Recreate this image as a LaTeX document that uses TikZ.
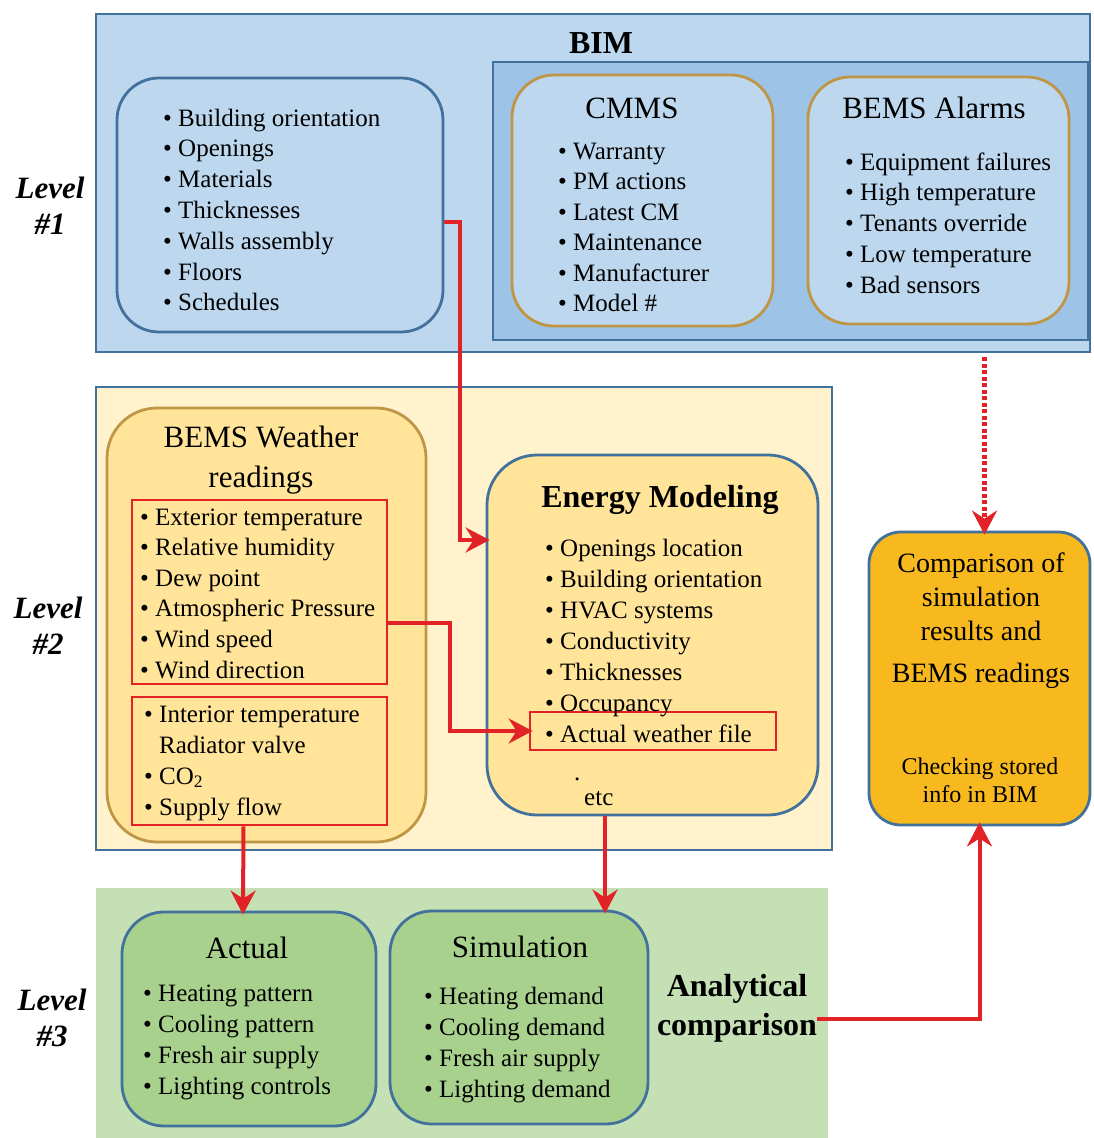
\documentclass[tikz,border=0pt]{standalone}
\usepackage{fontspec}
\setmainfont{Liberation Serif}
\usetikzlibrary{arrows.meta}
\definecolor{bimfill}{RGB}{189,215,238}
\definecolor{bimin}{RGB}{157,195,230}
\definecolor{blueline}{RGB}{65,113,156}
\definecolor{goldline}{RGB}{191,150,70}
\definecolor{creamfill}{RGB}{255,242,204}
\definecolor{yellowfill}{RGB}{255,228,153}
\definecolor{cmpfill}{RGB}{247,185,30}
\definecolor{greenfill}{RGB}{197,224,180}
\definecolor{greenbox}{RGB}{169,209,142}
\definecolor{redline}{RGB}{225,35,40}
\begin{document}
\begin{tikzpicture}[x=1pt,y=-1pt,
    panel/.style={draw=blueline,line width=2.8pt,inner sep=0pt},
    rbox/.style={line width=2.8pt,rounded corners=42pt,inner sep=0pt},
    redbox/.style={draw=redline,line width=2.8pt,inner sep=0pt},
    item/.style={anchor=base west,inner sep=0pt,font=\fontsize{25}{30}\selectfont},
    ttl/.style={inner sep=0pt,font=\fontsize{31}{36}\selectfont},
    lvl/.style={inner sep=0pt,align=center,font=\fontsize{31}{36}\selectfont\bfseries\itshape},
    link/.style={draw=redline,line width=4pt,shorten >=-4pt,-{Stealth[length=24pt,width=25pt,inset=8pt]}}]
  \useasboundingbox (0,0) rectangle (1093,1138);
  \node[panel,fill=bimfill,minimum width=994pt,minimum height=338pt] (bim) at (593,183) {};
  \node[panel,fill=bimin,minimum width=595pt,minimum height=278pt] (bimin) at (790.5,201) {};
  \node[rbox,draw=blueline,fill=bimfill,minimum width=326pt,minimum height=254pt] (geo) at (280,205) {};
  \node[rbox,draw=goldline,fill=bimfill,minimum width=261pt,minimum height=251pt] (cmms) at (642.5,200.5) {};
  \node[rbox,draw=goldline,fill=bimfill,minimum width=261pt,minimum height=247pt] (alarms) at (938.5,200.5) {};
  \node[panel,fill=creamfill,minimum width=736pt,minimum height=463pt] (lvtwo) at (464,618.5) {};
  \node[rbox,draw=goldline,fill=yellowfill,minimum width=319pt,minimum height=434pt,rounded corners=50pt] (weather) at (266.5,625) {};
  \node[redbox,minimum width=255pt,minimum height=184pt] (wx) at (259.5,592) {};
  \node[redbox,minimum width=255pt,minimum height=128pt] (wi) at (259.5,761) {};
  \node[rbox,draw=blueline,fill=yellowfill,minimum width=331pt,minimum height=360pt,rounded corners=50pt] (energy) at (652.5,635) {};
  \node[redbox,minimum width=246pt,minimum height=38pt] (awf) at (653,731) {};
  \node[rbox,draw=blueline,fill=cmpfill,minimum width=221pt,minimum height=293pt,rounded corners=32pt] (cmp) at (979.5,678.5) {};
  \node[fill=greenfill,inner sep=0pt,minimum width=732pt,minimum height=250pt] (lvthree) at (462,1013) {};
  \node[rbox,draw=blueline,fill=greenbox,minimum width=254pt,minimum height=214pt] (actual) at (249,1019) {};
  \node[rbox,draw=blueline,fill=greenbox,minimum width=258pt,minimum height=213pt] (sim) at (519,1017.5) {};

  \node[ttl,font=\fontsize{32}{36}\selectfont\bfseries] (bimt) at (601,43) {BIM};
  \node[ttl] (cmmst) at (632,108) {CMMS};
  \node[ttl] (alarmst) at (934,108) {BEMS Alarms};
  \node[ttl,align=center,font=\fontsize{31}{40}\selectfont] (weathert) at (261,460) {BEMS Weather\\readings};
  \node[ttl,font=\fontsize{32}{36}\selectfont\bfseries] (energyt) at (660,500) {Energy Modeling};
  \node[ttl] (actualt) at (247,948) {Actual};
  \node[ttl] (simt) at (520,947) {Simulation};
  \node[lvl] (lone) at (50,206) {Level\\\#1};
  \node[lvl] (ltwo) at (48,626) {Level\\\#2};
  \node[lvl] (lthree) at (52,1018) {Level\\\#3};
  \node[inner sep=0pt,align=center,font=\fontsize{32}{39}\selectfont\bfseries] (ana) at (737,1008) {Analytical\\comparison};
  \node[anchor=north,inner sep=0pt,align=center,font=\fontsize{28}{34}\selectfont] (cmpa) at (981,553) {Comparison of\\simulation\\results and\\[8pt]BEMS readings};
  \node[anchor=north,inner sep=0pt,align=center,font=\fontsize{24}{28}\selectfont] (cmpb) at (980,758) {Checking stored\\info in BIM};

  \foreach \t [count=\i from 0] in {Building orientation,Openings,Materials,Thicknesses,Walls assembly,Floors,Schedules}
    \node[item] (g\i) at (163,126+30.8*\i) {\textbullet\ \t};
  \foreach \t [count=\i from 0] in {Warranty,PM actions,Latest CM,Maintenance,Manufacturer,Model \#}
    \node[item] (c\i) at (558,159+30.5*\i) {\textbullet\ \t};
  \foreach \t [count=\i from 0] in {Equipment failures,High temperature,Tenants override,Low temperature,Bad sensors}
    \node[item] (a\i) at (845,170+30.8*\i) {\textbullet\ \t};
  \foreach \t [count=\i from 0] in {Exterior temperature,Relative humidity,Dew point,Atmospheric Pressure,Wind speed,Wind direction}
    \node[item] (x\i) at (140,525+30.6*\i) {\textbullet\ \t};
  \node[item] (i0) at (144,722) {\textbullet\ Interior temperature};
  \node[item] (i1) at (144,753) {\phantom{\textbullet}\ Radiator valve};
  \node[item] (i2) at (144,784) {\textbullet\ CO\textsubscript{2}};
  \node[item] (i3) at (144,815) {\textbullet\ Supply flow};
  \foreach \t [count=\i from 0] in {Openings location,Building orientation,HVAC systems,Conductivity,Thicknesses,Occupancy,Actual weather file}
    \node[item] (e\i) at (545,556+31*\i) {\textbullet\ \t};
  \node[item] (dot) at (574,780) {.};
  \node[item] (etc) at (584,805) {etc};
  \foreach \t [count=\i from 0] in {Heating pattern,Cooling pattern,Fresh air supply,Lighting controls}
    \node[item] (r\i) at (143,1001+31*\i) {\textbullet\ \t};
  \foreach \t [count=\i from 0] in {Heating demand,Cooling demand,Fresh air supply,Lighting demand}
    \node[item] (s\i) at (424,1004+31*\i) {\textbullet\ \t};

  \draw[link] ([yshift=-17pt]geo.east) -- ++(16,0) |- ([yshift=95pt]energy.west);
  \draw[link] ([yshift=-31pt]wx.east) -- ++(62,0) |- (awf.west);
  \draw[link,dash pattern=on 4pt off 2.5pt,line width=4.5pt] ([xshift=5pt,yshift=-4pt]cmp.north |- bim.south) -- ([xshift=5pt]cmp.north);
  \draw[link] ([xshift=-16pt]wi.south) -- ([xshift=-6pt]actual.north);
  \draw[link] ([xshift=-47.5pt]energy.south) -- ([xshift=86pt]sim.north);
  \draw[link] ([yshift=-11pt]ana.east) -| (cmp.south);
\end{tikzpicture}
\end{document}
